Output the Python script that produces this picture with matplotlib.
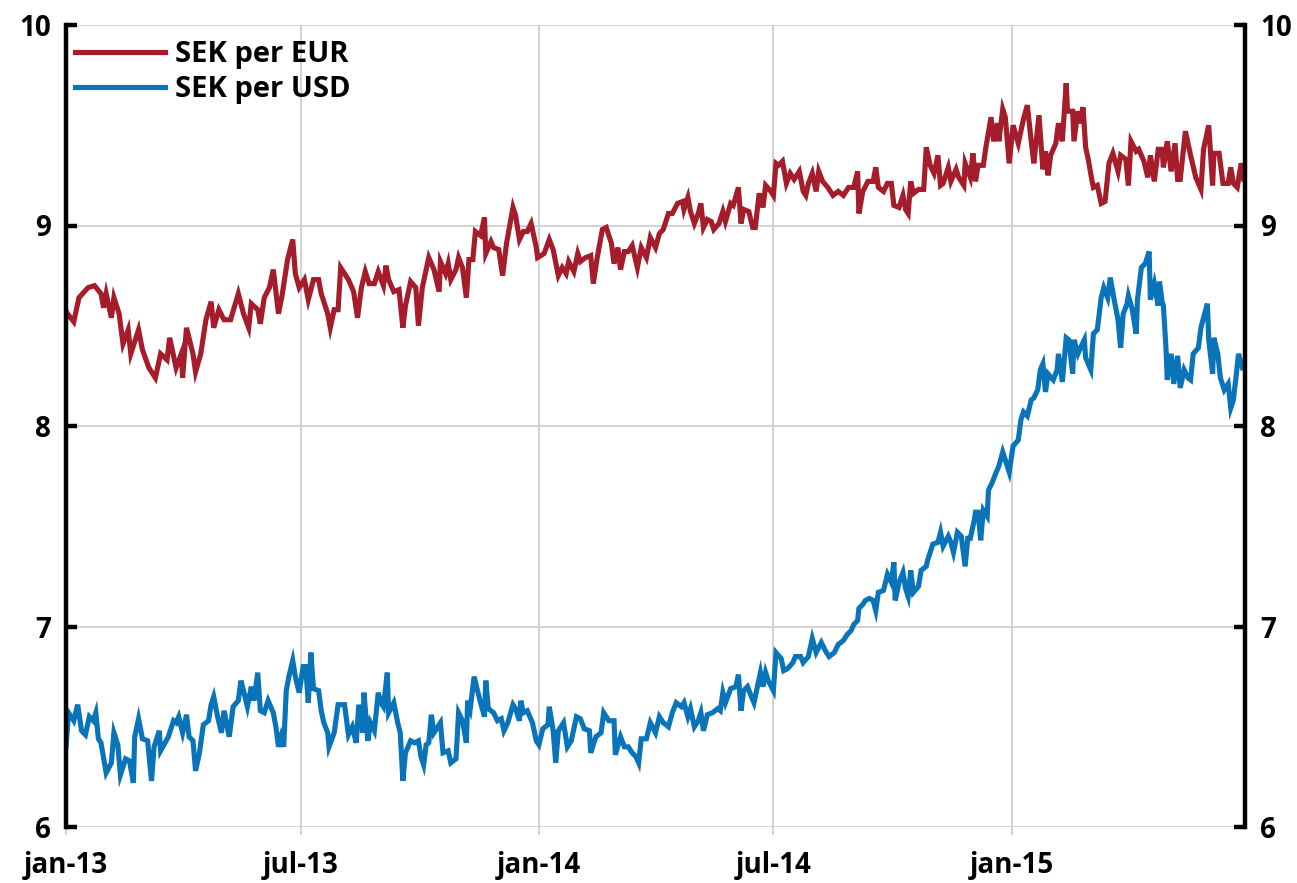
import matplotlib
matplotlib.use("Agg")
import matplotlib.pyplot as plt
import numpy as np
import pandas as pd

start = pd.Timestamp("2013-01-01")

# Days since 2013-01-01 and SEK per EUR
eur_day = [0, 6, 10, 17, 22, 27, 29, 31, 35, 37, 41, 44, 48, 50, 56, 59, 64, 69, 73, 78, 80, 85, 89, 90, 93, 98, 100, 104, 108, 112, 114, 118, 122, 127, 133, 137, 141, 143, 148, 150, 153, 157, 160, 164, 167, 171, 175, 177, 180, 184, 187, 191, 195, 197, 202, 204, 207, 210, 212, 218, 222, 225, 228,
           231, 234, 238, 241, 245, 247, 249, 253, 257, 260, 262, 266, 270, 272, 275, 280, 284, 288, 289, 293, 295, 297, 301, 303, 306, 309, 311, 314, 316, 320, 323, 324, 328, 330, 334, 337, 340, 345, 347, 350, 353, 356, 359, 363, 364, 369, 373, 376, 380, 383, 386, 388, 392, 395, 397, 401, 405, 407, 410, 414, 417, 421, 423, 426, 428, 431, 434, 437, 441, 444, 448, 451,
           455, 458, 461, 465, 468, 472, 476, 477, 480, 482, 485, 488, 490, 492, 495, 498, 500, 504, 507, 509, 513, 515, 519, 521, 523, 527, 530, 532, 535, 538, 540, 544, 546, 548, 550, 553, 556, 559, 562, 566, 569, 571, 573, 576, 579, 581, 584, 588, 592, 596, 600, 604, 608, 611, 612, 615, 619, 623, 625, 627, 631, 634, 637, 639, 643, 646, 648, 650, 652, 654, 658, 662, 664, 667, 670, 673,
           675, 677, 681, 683, 687, 689, 693, 694, 698, 700, 702, 704, 708, 710, 714, 716, 719, 720, 723, 725, 728, 731, 735, 739, 742, 745, 747, 751, 754, 756, 758, 760, 764, 766, 769, 772, 773, 777, 778, 781, 782, 785, 787, 789, 792, 793, 796, 799, 802, 805, 808, 812, 814, 818, 820, 822, 826, 828, 832, 835, 837, 840, 843, 846, 847, 850, 853, 856, 858, 860, 864, 868, 872, 876, 878, 882, 885, 886, 890, 893, 897, 899, 901, 904, 907, 909]
eur_val = [8.57, 8.52, 8.64, 8.69, 8.70, 8.66, 8.59, 8.66, 8.54, 8.64, 8.56, 8.41, 8.48, 8.36, 8.48, 8.38, 8.29, 8.24, 8.36, 8.33, 8.44, 8.29, 8.36, 8.24, 8.49, 8.36, 8.27, 8.36, 8.53, 8.62, 8.49, 8.58, 8.53, 8.53, 8.66, 8.56, 8.49, 8.61, 8.58, 8.51, 8.64, 8.69, 8.78, 8.56, 8.66, 8.83, 8.93, 8.76, 8.69, 8.73, 8.63, 8.73, 8.73, 8.66, 8.56, 8.49, 8.58, 8.58, 8.79, 8.73, 8.67, 8.54, 8.69,
           8.77, 8.71, 8.71, 8.77, 8.70, 8.80, 8.73, 8.67, 8.68, 8.49, 8.60, 8.72, 8.69, 8.50, 8.69, 8.84, 8.78, 8.67, 8.82, 8.76, 8.81, 8.73, 8.78, 8.84, 8.79, 8.64, 8.83, 8.83, 8.97, 8.95, 9.04, 8.86, 8.92, 8.89, 8.88, 8.75, 8.91, 9.09, 9.05, 8.93, 8.97, 8.97, 9.01, 8.89, 8.84, 8.86, 8.93, 8.88, 8.75, 8.79, 8.76, 8.82, 8.77, 8.86, 8.82, 8.84, 8.85, 8.71, 8.84, 8.98, 8.99, 8.91, 8.81, 8.89, 8.78, 8.87, 8.87, 8.90, 8.79, 8.89, 8.84, 8.94,
           8.89, 8.96, 8.98, 9.06, 9.06, 9.11, 9.12, 9.08, 9.14, 9.07, 9.01, 9.06, 9.11, 8.99, 9.03, 9.02, 8.98, 9.01, 9.07, 9.02, 9.11, 9.10, 9.19, 9.01, 9.08, 9.07, 8.99, 8.99, 9.16, 9.09, 9.20, 9.17, 9.15, 9.31, 9.30, 9.32, 9.21, 9.26, 9.23, 9.27, 9.17, 9.15, 9.21, 9.26, 9.17, 9.27, 9.22, 9.19, 9.15, 9.17, 9.15, 9.19, 9.19, 9.27, 9.06, 9.17, 9.22, 9.22, 9.29, 9.19, 9.17, 9.21, 9.21, 9.10, 9.09, 9.15, 9.08, 9.06, 9.22, 9.16, 9.18, 9.18, 9.39, 9.30, 9.26, 9.35,
           9.20, 9.21, 9.29, 9.22, 9.28, 9.24, 9.20, 9.31, 9.24, 9.36, 9.22, 9.30, 9.30, 9.39, 9.54, 9.42, 9.51, 9.42, 9.58, 9.54, 9.31, 9.50, 9.41, 9.53, 9.60, 9.42, 9.31, 9.55, 9.28, 9.37, 9.25, 9.35, 9.41, 9.51, 9.42, 9.71, 9.57, 9.57, 9.42, 9.57, 9.51, 9.59, 9.39, 9.33, 9.22, 9.19, 9.20, 9.11, 9.12, 9.31, 9.36, 9.27, 9.35, 9.33, 9.20, 9.42, 9.37, 9.38, 9.32, 9.24, 9.35, 9.22, 9.38, 9.38, 9.29, 9.42, 9.27, 9.41, 9.23, 9.23, 9.47, 9.35, 9.24, 9.18, 9.38, 9.50, 9.20, 9.36, 9.36, 9.21, 9.21, 9.29, 9.21, 9.19, 9.31, 9.23]

# Days since 2013-01-01 and SEK per USD
usd_day = [0, 2, 6, 9, 12, 15, 18, 21, 23, 25, 27, 31, 35, 37, 40, 42, 46, 49, 52, 53, 56, 59, 63, 66, 68, 72, 73, 79, 83, 85, 87, 90, 93, 95, 98, 100, 103, 106, 110, 112, 114, 117, 120, 122, 126, 129, 133, 135, 137, 140, 143, 145, 148, 150, 153, 156, 158, 160, 162, 164, 166, 168, 170, 172, 175, 177, 180, 183, 185, 187, 189, 191, 195, 197, 199, 202, 203, 207, 210, 215, 218, 221, 224, 226,
           229, 230, 233, 235, 238, 241, 243, 245, 248, 249, 253, 256, 258, 260, 262, 266, 269, 272, 274, 276, 278, 280, 282, 284, 287, 289, 291, 295, 297, 301, 303, 306, 309, 310, 312, 315, 318, 320, 323, 324, 326, 330, 333, 336, 338, 341, 345, 347, 350, 351, 353, 356, 360, 363, 365, 368, 372, 373, 376, 378, 380, 384, 387, 390, 394, 397, 400, 404, 405, 409, 413, 415, 419, 423, 424, 428, 431, 434, 437, 440, 442,
           444, 448, 451, 455, 458, 461, 465, 468, 471, 475, 477, 480, 482, 485, 488, 490, 492, 495, 499, 503, 505, 507, 509, 513, 517, 519, 521, 523, 526, 529, 531, 534, 536, 538, 540, 542, 546, 548, 552, 554, 557, 561, 563, 567, 569, 573, 576, 579, 583, 586, 589, 593, 596, 600, 603, 606, 608, 611, 612, 615, 617, 620, 623, 625, 627, 631, 634, 637, 639, 640, 643, 646, 648, 650, 652, 654, 658, 660, 664, 665, 669, 673,
           675, 677, 681, 683, 685, 688, 691, 694, 696, 698, 701, 702, 704, 706, 708, 711, 712, 715, 718, 720, 723, 725, 728, 731, 735, 737, 739, 742, 745, 747, 750, 752, 754, 756, 758, 762, 765, 766, 769, 772, 774, 777, 778, 781, 783, 786, 787, 791, 793, 796, 799, 801, 804, 806, 809, 812, 814, 816, 819, 820, 823, 826, 827, 830, 833, 836, 837, 840, 843, 844, 846, 847, 849, 850, 853, 855, 858, 860, 863, 866, 868, 870, 874, 876, 878, 881, 882, 885, 886, 889, 891, 894, 897, 899, 901, 903, 905, 908]
usd_val = [6.40, 6.57, 6.53, 6.61, 6.48, 6.46, 6.55, 6.53, 6.57, 6.44, 6.42, 6.27, 6.32, 6.47, 6.41, 6.26, 6.34, 6.33, 6.22, 6.45, 6.54, 6.44, 6.43, 6.23, 6.40, 6.48, 6.38, 6.45, 6.53, 6.52, 6.55, 6.47, 6.56, 6.45, 6.43, 6.28, 6.37, 6.51, 6.53, 6.61, 6.65, 6.55, 6.47, 6.58, 6.45, 6.60, 6.63, 6.73, 6.68, 6.60, 6.70, 6.63, 6.77, 6.58, 6.57, 6.63, 6.60, 6.57, 6.50, 6.40, 6.45, 6.40, 6.68, 6.75, 6.83, 6.75, 6.67, 6.80, 6.80, 6.62, 6.87, 6.69, 6.68, 6.58, 6.52, 6.47, 6.40, 6.47, 6.61, 6.61, 6.46, 6.50, 6.42, 6.61,
           6.47, 6.67, 6.43, 6.52, 6.48, 6.67, 6.62, 6.60, 6.77, 6.57, 6.62, 6.52, 6.47, 6.23, 6.37, 6.43, 6.42, 6.43, 6.35, 6.31, 6.41, 6.42, 6.56, 6.47, 6.50, 6.52, 6.37, 6.38, 6.32, 6.34, 6.57, 6.53, 6.42, 6.63, 6.59, 6.75, 6.67, 6.62, 6.55, 6.73, 6.59, 6.57, 6.53, 6.54, 6.48, 6.52, 6.61, 6.59, 6.53, 6.63, 6.57, 6.58, 6.52, 6.43, 6.41, 6.49, 6.51, 6.60, 6.48, 6.32, 6.48, 6.52, 6.40, 6.43, 6.55, 6.54, 6.49, 6.48, 6.37, 6.45, 6.47, 6.57, 6.53, 6.53, 6.36, 6.45, 6.40, 6.40, 6.37, 6.35, 6.32,
           6.44, 6.44, 6.52, 6.47, 6.55, 6.52, 6.50, 6.57, 6.62, 6.60, 6.62, 6.55, 6.59, 6.50, 6.53, 6.57, 6.48, 6.56, 6.57, 6.59, 6.58, 6.67, 6.62, 6.69, 6.70, 6.76, 6.58, 6.68, 6.70, 6.65, 6.62, 6.71, 6.77, 6.70, 6.77, 6.73, 6.68, 6.87, 6.84, 6.78, 6.79, 6.82, 6.85, 6.85, 6.82, 6.85, 6.94, 6.87, 6.92, 6.88, 6.85, 6.87, 6.91, 6.93, 6.96, 6.98, 7.01, 7.03, 7.09, 7.11, 7.13, 7.14, 7.13, 7.08, 7.17, 7.18, 7.26, 7.22, 7.32, 7.13, 7.22, 7.27, 7.19, 7.15, 7.28, 7.17, 7.20, 7.28, 7.30, 7.33, 7.41, 7.42,
           7.47, 7.40, 7.45, 7.42, 7.37, 7.47, 7.45, 7.30, 7.44, 7.44, 7.53, 7.57, 7.57, 7.43, 7.58, 7.55, 7.68, 7.72, 7.77, 7.80, 7.87, 7.83, 7.77, 7.90, 7.93, 8.03, 8.07, 8.05, 8.13, 8.14, 8.18, 8.28, 8.31, 8.17, 8.26, 8.23, 8.28, 8.36, 8.22, 8.44, 8.43, 8.26, 8.43, 8.36, 8.39, 8.43, 8.34, 8.28, 8.46, 8.48, 8.64, 8.69, 8.64, 8.74, 8.63, 8.53, 8.39, 8.56, 8.61, 8.65, 8.58, 8.46, 8.63, 8.79, 8.81, 8.87, 8.63, 8.71, 8.60, 8.72, 8.62, 8.60, 8.39, 8.23, 8.36, 8.21, 8.35, 8.19, 8.28, 8.24, 8.23, 8.36, 8.39, 8.49, 8.54, 8.61, 8.43, 8.26, 8.44, 8.36, 8.24, 8.18, 8.21, 8.09, 8.13, 8.24, 8.36, 8.29]

series_names = ["SEK per EUR", "SEK per USD"]
tick_dates = ["2013-01-01", "2013-07-01", "2014-01-01", "2014-07-01", "2015-01-01"]
tick_labels = ["jan-13", "jul-13", "jan-14", "jul-14", "jan-15"]
y_ticks = [6, 7, 8, 9, 10]

eur_dates = start + pd.to_timedelta(eur_day, unit="D")
usd_dates = start + pd.to_timedelta(usd_day, unit="D")

plt.rcParams['font.family'] = ['Open Sans', 'DejaVu Sans']
plt.rcParams['font.weight'] = 'bold'

fig = plt.figure(figsize=(12.97, 8.83), dpi=100)
ax = fig.add_axes([66/1297, 1-827/883, (1245-66)/1297, (827-25)/883])

ax.plot(eur_dates, eur_val, color="#A51C2A", lw=3.7, label=series_names[0], solid_joinstyle="miter")
ax.plot(usd_dates, usd_val, color="#0A74BA", lw=3.7, label=series_names[1], solid_joinstyle="miter")

ax.set_ylim(6, 10)
ax.set_xlim(start, pd.Timestamp("2015-06-30"))
ax.set_yticks(y_ticks)
ax.set_yticklabels([str(v) for v in y_ticks])
ax.set_xticks(pd.to_datetime(tick_dates))
ax.set_xticklabels(tick_labels)

ax.grid(True, color="#cfcfcf", lw=1.3)
ax.set_axisbelow(True)

for s in ["top", "bottom"]:
    ax.spines[s].set_visible(False)
for s in ["left", "right"]:
    ax.spines[s].set_color("black")
    ax.spines[s].set_linewidth(3.2)

ax.yaxis.set_ticks_position("both")
ax.tick_params(axis="y", which="both", direction="in", length=8, width=3.2, color="black",
               labelsize=20, labelleft=True, labelright=True, pad=11)
ax.tick_params(axis="x", direction="out", length=6, width=1.3, color="#cfcfcf",
               labelsize=20, pad=11)
for lab in ax.get_xticklabels() + ax.get_yticklabels():
    lab.set_fontweight("bold")
for lab in ax.yaxis.get_ticklabels(which="both"):
    lab.set_fontweight("bold")

leg = ax.legend(loc="upper left", bbox_to_anchor=(0.0, 1.0 - 6/802), frameon=False,
                prop={"size": 21, "weight": "bold"}, handlelength=3.1,
                handletextpad=0.35, labelspacing=0.23, borderaxespad=0.15,
                borderpad=0.15)

fig.savefig("out.png", dpi=100)
